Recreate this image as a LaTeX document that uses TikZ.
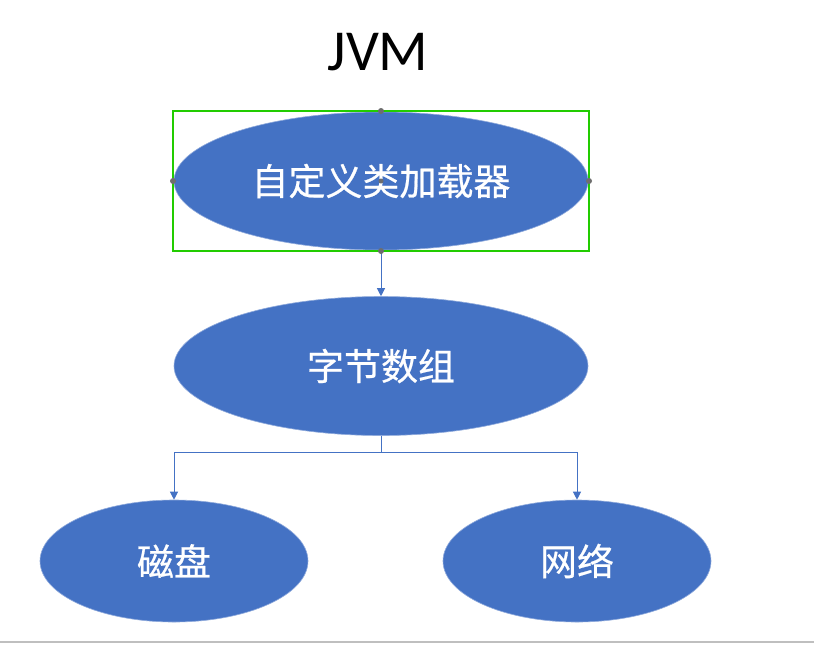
\documentclass[tikz,border=0pt]{standalone}
\usepackage{fontspec}
\setmainfont{Carlito}
\newfontfamily\cjk[FakeBold=0.6]{Noto Sans CJK SC}
\usetikzlibrary{arrows.meta,shapes.geometric}
\definecolor{blu}{HTML}{4472C4}
\definecolor{grn}{HTML}{22CC00}
\definecolor{hnd}{HTML}{6E6E6E}
\tikzset{
  ell/.style={ellipse, fill=blu, draw=blu!60!white, line width=0.6pt, inner sep=0pt,
    text=white, font=\cjk\fontsize{37}{42}\selectfont},
  conn/.style={draw=blu, line width=1pt, -{Triangle[width=8pt,length=8pt]}},
  handle/.style={fill=hnd, circle, inner sep=0pt, minimum size=6pt}
}
\begin{document}
\begin{tikzpicture}[x=1pt,y=-1pt]
\useasboundingbox (0,0) rectangle (814,649);
\fill[white] (0,0) rectangle (814,649);
\draw[color=black!25, line width=1.2pt] (0,642) -- (814,642);
\node[font=\fontsize{58}{64}\selectfont] (title) at (378,52) {JVM};
\node[ell, minimum width=414pt, minimum height=138pt] (cl) at (381,181) {自定义类加载器};
\node[ell, minimum width=414pt, minimum height=139pt] (ba) at (381,366) {字节数组};
\node[ell, minimum width=268pt, minimum height=122pt] (disk) at (174,561) {磁盘};
\node[ell, minimum width=268pt, minimum height=122pt] (net) at (577,561) {网络};
\draw[grn, line width=2.5pt] (173,111) rectangle (589,251);
\coordinate (sel) at (381,251);
\draw[conn] (sel) -- (ba.north);
\coordinate (split) at (381,452);
\draw[draw=blu, line width=1pt] (ba.south) -- (split);
\draw[conn] (split) -| (disk.north);
\draw[conn] (split) -| (net.north);
\node[handle] (h1) at (381,111) {};
\node[handle] (h2) at (173,181) {};
\node[handle] (h3) at (589,181) {};
\node[handle] (h4) at (381,251) {};
\node[handle, minimum size=5pt] (h5) at (381,181) {};
\end{tikzpicture}
\end{document}
